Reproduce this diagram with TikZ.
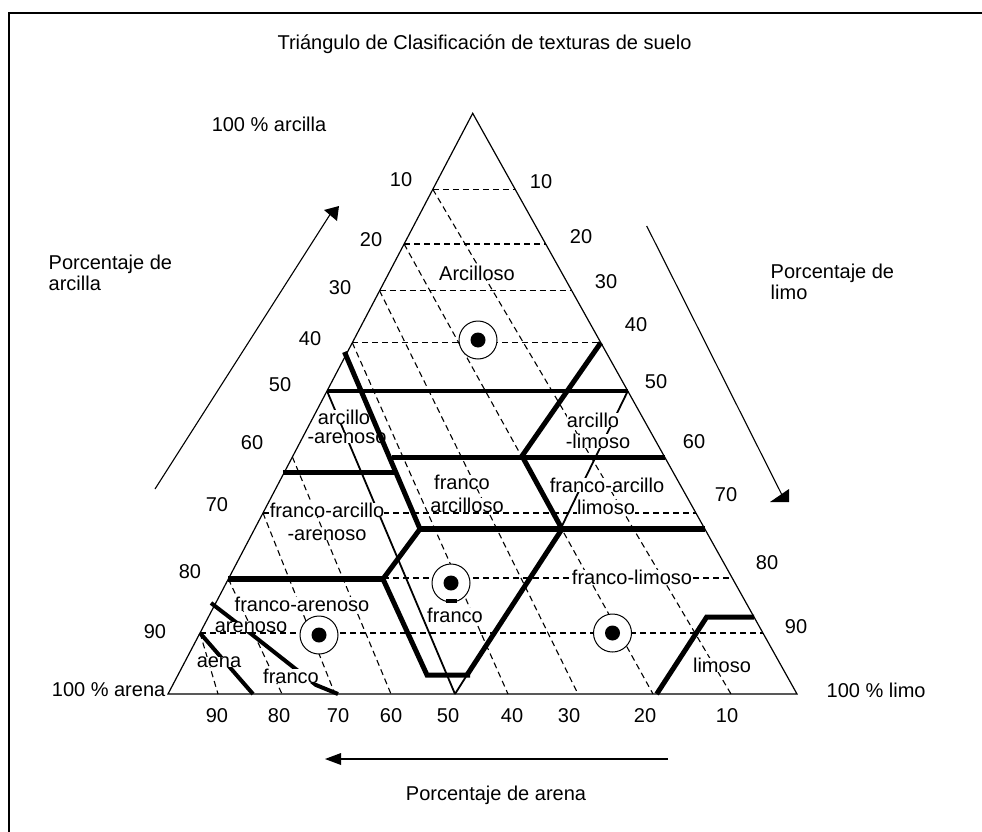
\documentclass[tikz,border=0pt]{standalone}
\usepackage{fontspec}
\setmainfont{Liberation Sans}
\begin{document}
\begin{tikzpicture}[x=1pt,y=-1pt,
  lbl/.style={font=\fontsize{20}{21}\selectfont, inner sep=0.5pt},
  inlbl/.style={lbl, fill=white, inner sep=0pt},
  edgeline/.style={line width=1.2pt},
  gridline/.style={line width=1.1pt, dash pattern=on 6pt off 4pt},
  solidgrid/.style={line width=1.8pt},
  boundline/.style={line width=5pt},
  midbound/.style={line width=3.5pt},
  arrline/.style={line width=1.1pt},
  marker/.style={draw, fill=white, line width=1pt},
]
\useasboundingbox (0,0) rectangle (982,832);
% frame
\draw[line width=1.3pt] (9,832) -- (9,13) -- (982,13);

% triangle corners
\coordinate (A) at (472.7,113.3);
\coordinate (L) at (168,694);
\coordinate (R) at (797,694);

% left edge ticks
\coordinate (l10) at (432.8,189.3);
\coordinate (l20) at (404.1,244);
\coordinate (l30) at (379.6,290.7);
\coordinate (l40) at (352.3,342.7);
\coordinate (l50) at (327,391);
\coordinate (l60) at (292.4,457);
\coordinate (l70) at (263,513);
\coordinate (l80) at (228.4,579);
\coordinate (l90) at (200,633);
% right edge ticks
\coordinate (r10) at (515.1,189.3);
\coordinate (r20) at (545.7,244);
\coordinate (r30) at (571.8,290.7);
\coordinate (r40) at (600.8,342.7);
\coordinate (r50) at (627.8,391);
\coordinate (r70) at (695.9,513);
\coordinate (r80) at (732.2,578);
\coordinate (r90) at (762.9,633);
% bottom ticks
\coordinate (b90) at (218,694);
\coordinate (b80) at (282,694);
\coordinate (b70) at (335,694);
\coordinate (b60) at (391,694);
\coordinate (b50) at (455,694);
\coordinate (b40) at (508,694);
\coordinate (b30) at (578,694);
\coordinate (b20) at (653,694);
\coordinate (b10) at (731,694);

% horizontal dashed grid
\draw[gridline] (l10) -- (r10);
\draw[gridline] (l20) -- (r20);
\draw[gridline] (l30) -- (r30);
\draw[gridline] (l40) -- (r40);
\draw[gridline] (l70) -- (r70);
\draw[gridline] (383,578) -- (r80);
\draw[gridline] (l90) -- (r90);

% diagonal dashed grid
\draw[gridline] (l10) -- (b10);
\draw[gridline] (l20) -- (b20);
\draw[gridline] (l30) -- (b30);
\draw[gridline] (l40) -- (b40);
\draw[gridline] (l60) -- (b60);
\draw[gridline] (l70) -- (b70);
\draw[gridline] (l80) -- (b80);
\draw[gridline] (l90) -- (b90);
\draw[solidgrid] (l50) -- (b50);
\draw[solidgrid] (r50) -- (560,530);

% triangle
\draw[edgeline] (L) -- (A) -- (R) -- cycle;

% lower-left boundaries (under text)
\draw[line width=4pt] (211,603) -- (250,633) -- (316,685) -- (338,694);
\draw[line width=4pt] (l90) -- (253,694);

% markers
\foreach \n/\p in {m1/{(478,340)}, m2/{(451,583)}, m3/{(319,635)}, m4/{(612.5,633)}} {
  \draw[marker] \p circle[radius=19pt];
  \fill \p circle[radius=7.5pt];
}
\draw[midbound] (446,601) -- (457,601);

% interior labels
\node[inlbl] (t1) at (477,273) {Arcilloso};
\node[inlbl] (t2) at (344,417) {arcillo};
\node[inlbl] (t3) at (347,438) {-arenoso};
\node[inlbl] (t4) at (593,420) {arcillo};
\node[inlbl] (t5) at (598,441) {-limoso};
\node[inlbl] (t6) at (462,482) {franco};
\node[inlbl] (t7) at (467,505) {arcilloso};
\node[inlbl] (t8) at (607,485) {franco-arcillo};
\node[inlbl] (t9) at (606,507) {limoso};
\node[inlbl] (t10) at (327,510) {franco-arcillo};
\node[inlbl] (t11) at (327,535) {-arenoso};
\node[inlbl] (t12) at (302,604) {franco-arenoso};
\node[inlbl] (t13) at (251,627) {arenoso};
\node[inlbl] (t14) at (219,662) {aena};
\node[inlbl] (t15) at (291,676) {franco};
\node[inlbl] (t16) at (455,615) {franco};
\node[inlbl] (t17) at (632,577) {franco-limoso};
\node[inlbl] (t18) at (722,665) {limoso};

% thick boundaries
\draw[boundline] (344.5,352) -- (420,529);
\draw[midbound] (l50) -- (r50);
\draw[boundline] (392,457) -- (664.5,457);
\draw[boundline] (283,472) -- (395.5,472);
\draw[line width=5.5pt] (420,529) -- (704.8,529);
\draw[boundline] (r40) -- (522,456) -- (562,529);
\draw[boundline] (562,529) -- (467,675);
\draw[solidgrid] (467,675) -- (b50);
\draw[line width=5.5pt] (l80) -- (383,579);
\draw[boundline] (420,529) -- (383,579) -- (427,675) -- (470,675);
\draw[boundline] (656.7,694) -- (706.7,617) -- (754,617);

% axis numbers left
\foreach \v/\x/\y in {10/401/180, 20/371/240, 30/340/288, 40/310/339, 50/280/385, 60/252/443, 70/217/505, 80/190/572, 90/155/632}
  \node[lbl] (nl\v) at (\x,\y) {\v};
% right
\foreach \v/\x/\y in {10/541/182, 20/581/237, 30/606/282, 40/636/325, 50/656/382, 60/694/442, 70/726/495, 80/767/563, 90/796/627}
  \node[lbl] (nr\v) at (\x,\y) {\v};
% bottom
\foreach \v/\x in {90/217, 80/279, 70/338, 60/391, 50/448, 40/512, 30/569, 20/645, 10/727}
  \node[lbl] (nb\v) at (\x,716) {\v};

% outer labels
\node[lbl] (title) at (484.5,44) {Triángulo de Clasificación de texturas de suelo};
\node[lbl] (top) at (269,124) {100 \% arcilla};
\node[lbl, anchor=west, align=left] (pa) at (48,273) {Porcentaje de\\arcilla};
\node[lbl, anchor=west, align=left] (pl) at (770,282) {Porcentaje de\\limo};
\node[lbl, anchor=east] (are) at (166,690) {100 \% arena};
\node[lbl, anchor=west] (lim) at (826,690) {100 \% limo};
\node[lbl] (pare) at (496,795) {Porcentaje de arena};

% arrows
\coordinate (a1s) at (155,489);
\coordinate (a1e) at (331,213);
\draw[arrline] (a1s) -- (a1e);
\fill (324,210) -- (339,206) -- (337,221) -- cycle;
\coordinate (a2s) at (646.7,226);
\coordinate (a2e) at (782,495);
\draw[arrline] (a2s) -- (a2e);
\fill (770,502) -- (789,502) -- (789,489) -- cycle;
\coordinate (a3s) at (668,759);
\coordinate (a3e) at (340,759);
\draw[arrline] (a3s) -- (a3e);
\fill (325,759) -- (341,753) -- (341,765) -- cycle;
\end{tikzpicture}
\end{document}
